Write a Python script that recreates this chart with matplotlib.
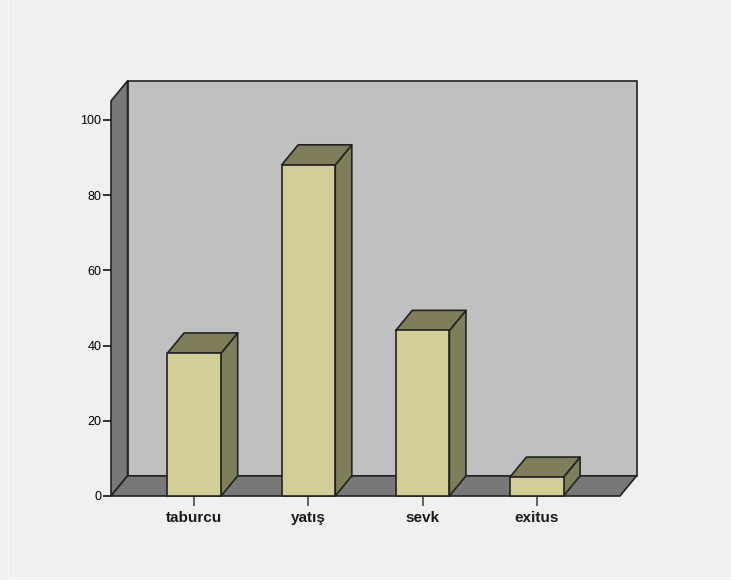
import matplotlib
matplotlib.use("Agg")
import matplotlib.pyplot as plt
from matplotlib.patches import Polygon

plt.rcParams['font.family'] = ['Liberation Sans', 'DejaVu Sans']

categories = ["taburcu", "yatış", "sevk", "exitus"]
values = [38, 88, 44, 5]
y_ticks = [0, 20, 40, 60, 80, 100]

BG = "#f0f0f0"
WALL_BACK = "#c0c0c0"
WALL_SIDE = "#787878"
BAR_FRONT = "#d3ce97"
BAR_SHADE = "#807d5a"
EDGE = "#222222"

fig = plt.figure(figsize=(7.31, 5.80), dpi=100, facecolor=BG)
W, H = 731, 580
ax = fig.add_axes([111 / W, 1 - 496 / H, (620 - 111) / W, (496 - 101) / H])
ax.set_facecolor("none")

x0, x1 = -0.73, 3.73
ytop = 105
ax.set_xlim(x0, x1)
ax.set_ylim(0, ytop)

# depth offset of the 3D box, in data units
DX = 0.145
DY = 5.35
bw = 0.47


def face(pts, color, z):
    ax.add_patch(Polygon(pts, closed=True, facecolor=color, edgecolor=EDGE,
                         linewidth=1.2, clip_on=False, zorder=z, joinstyle="round"))


# back wall, left wall, floor
face([(x0 + DX, DY), (x1 + DX, DY), (x1 + DX, ytop + DY), (x0 + DX, ytop + DY)], WALL_BACK, 1)
face([(x0, 0), (x0 + DX, DY), (x0 + DX, ytop + DY), (x0, ytop)], WALL_SIDE, 2)
face([(x0, 0), (x1, 0), (x1 + DX, DY), (x0 + DX, DY)], WALL_SIDE, 2)

# bars: side, top, front
for i, v in enumerate(values):
    l, r = i - bw / 2, i + bw / 2
    z = 3 + i
    face([(r, 0), (r + DX, DY), (r + DX, v + DY), (r, v)], BAR_SHADE, z)
    face([(l, v), (r, v), (r + DX, v + DY), (l + DX, v + DY)], BAR_SHADE, z)
    face([(l, 0), (r, 0), (r, v), (l, v)], BAR_FRONT, z)

for s in ax.spines.values():
    s.set_visible(False)

ax.set_yticks(y_ticks)
ax.set_yticklabels([str(t) for t in y_ticks], fontsize=9)
ax.tick_params(axis="y", length=6, width=1.3, color="#222222", pad=1)

ax.set_xticks(range(len(categories)))
ax.set_xticklabels(categories, fontsize=11, fontweight="bold", color="#1a1a1a")
ax.tick_params(axis="x", length=7.5, width=1.3, color="#555555", pad=3)

# thin light frame lines at the image edges
fig.add_artist(plt.Line2D([8 / W, 8 / W], [2 / H, 1], transform=fig.transFigure,
                          color="#fafafa", linewidth=1))
fig.add_artist(plt.Line2D([8 / W, 1], [2 / H, 2 / H], transform=fig.transFigure,
                          color="#fafafa", linewidth=1))

fig.savefig("out.png", dpi=100, facecolor=BG)
